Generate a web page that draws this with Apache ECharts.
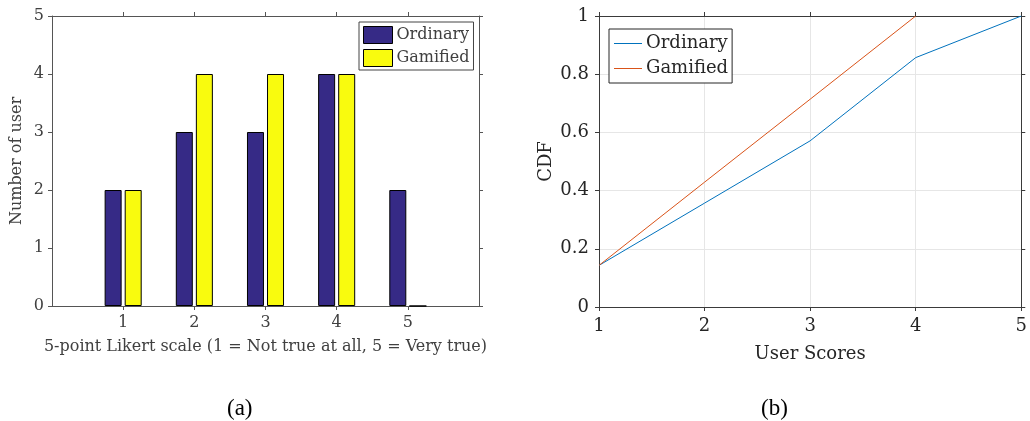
<!DOCTYPE html>
<html>
<head>
<meta charset="utf-8">
<script src="https://cdn.jsdelivr.net/npm/echarts@6/dist/echarts.min.js"></script>
<style>
  html, body { margin: 0; padding: 0; background: #fff; }
  #chart { width: 1030px; height: 421px; }
</style>
</head>
<body>
<div id="chart"></div>
<script>
// Two panels: (a) Likert answer counts per group, (b) CDF of the user scores.
const likertScores = [1, 2, 3, 4, 5]
const ordinaryCounts = [2, 3, 3, 4, 2]
const gamifiedCounts = [2, 4, 4, 4, 0]

const cdfScores = [1, 2, 3, 4, 5]
const ordinaryCdf = [0.143, 0.357, 0.571, 0.857, 1]
const gamifiedCdf = [0.143, 0.429, 0.714, 1]

const SERIF = "'DejaVu Serif', serif"
const BOX_A = "#555"
const TEXT_A = "#404040"
const BOX_B = "#3a3a3a"
const TEXT_B = "#262626"

const pairs = (xs, ys) => ys.map((y, i) => [xs[i], y])

// helper for the plain "frame" axes that only carry ticks
const frameAxis = (position, color, extra) => ({
  position,
  axisLine: {show: true, onZero: false, lineStyle: {color, width: 1}},
  axisTick: {show: true, length: 4, lineStyle: {color}},
  axisLabel: {show: false},
  splitLine: {show: false},
  ...extra,
})

// legend entries share names across panels, so series get keys and the legend maps them back
const labels = {ordA: "Ordinary", gamA: "Gamified", ordB: "Ordinary", gamB: "Gamified"}

const option = {
  animation: false,
  grid: [
    {left: 52, top: 16, width: 427, height: 290},
    {left: 599, top: 16, width: 427, height: 291},
  ],
  xAxis: [
    {
      type: "value", gridIndex: 0, min: 0, max: 6, interval: 1, position: "bottom",
      name: "5-point Likert scale (1 = Not true at all, 5 = Very true)",
      nameLocation: "middle", nameGap: 33,
      nameTextStyle: {fontFamily: SERIF, fontSize: 16, color: TEXT_A},
      axisLine: {onZero: false, lineStyle: {color: BOX_A}},
      axisTick: {length: 4, lineStyle: {color: BOX_A}, customValues: likertScores},
      axisLabel: {fontFamily: SERIF, fontSize: 16, color: TEXT_A, margin: 9, customValues: likertScores},
      splitLine: {show: false},
    },
    frameAxis("top", BOX_A, {
      type: "value", gridIndex: 0, min: 0, max: 6, interval: 1,
      axisTick: {show: true, length: 4, lineStyle: {color: BOX_A}, customValues: likertScores},
    }),
    {
      type: "value", gridIndex: 1, min: 1, max: 5, interval: 1, position: "bottom",
      name: "User Scores", nameLocation: "middle", nameGap: 38,
      nameTextStyle: {fontFamily: SERIF, fontSize: 18, color: TEXT_B},
      axisLine: {onZero: false, lineStyle: {color: BOX_B}},
      axisTick: {length: 4, lineStyle: {color: BOX_B}},
      axisLabel: {fontFamily: SERIF, fontSize: 18, color: TEXT_B, margin: 10},
      splitLine: {show: true, lineStyle: {color: "#e6e6e6"}},
    },
    frameAxis("top", BOX_B, {type: "value", gridIndex: 1, min: 1, max: 5, interval: 1}),
  ],
  yAxis: [
    {
      type: "value", gridIndex: 0, min: 0, max: 5, interval: 1, position: "left",
      name: "Number of user", nameLocation: "middle", nameGap: 27,
      nameTextStyle: {fontFamily: SERIF, fontSize: 16, color: TEXT_A},
      axisLine: {show: true, onZero: false, lineStyle: {color: BOX_A}},
      axisTick: {show: true, length: 4, lineStyle: {color: BOX_A}},
      axisLabel: {fontFamily: SERIF, fontSize: 16, color: TEXT_A, margin: 8},
      splitLine: {show: false},
    },
    frameAxis("right", BOX_A, {type: "value", gridIndex: 0, min: 0, max: 5, interval: 1}),
    {
      type: "value", gridIndex: 1, min: 0, max: 1, interval: 0.2, position: "left",
      name: "CDF", nameLocation: "middle", nameGap: 44,
      nameTextStyle: {fontFamily: SERIF, fontSize: 18, color: TEXT_B},
      axisLine: {show: true, onZero: false, lineStyle: {color: BOX_B}},
      axisTick: {show: true, length: 4, lineStyle: {color: BOX_B}},
      axisLabel: {fontFamily: SERIF, fontSize: 18, color: TEXT_B, margin: 10},
      splitLine: {show: true, lineStyle: {color: "#e6e6e6"}},
    },
    frameAxis("right", BOX_B, {type: "value", gridIndex: 1, min: 0, max: 1, interval: 0.2}),
  ],
  legend: [
    {
      data: ["ordA", "gamA"], formatter: (n) => labels[n],
      orient: "vertical", left: 359, top: 22, icon: "rect",
      padding: [4, 4, 3, 4], itemGap: 5, itemWidth: 29, itemHeight: 17,
      borderColor: "#444", borderWidth: 1, backgroundColor: "#fff",
      itemStyle: {borderColor: "#000", borderWidth: 1},
      textStyle: {fontFamily: SERIF, fontSize: 16, color: TEXT_A, lineHeight: 18, padding: [0, 0, 0, -1]},
    },
    {
      data: ["ordB", "gamB"], formatter: (n) => labels[n],
      orient: "vertical", left: 609, top: 29, icon: "rect",
      padding: [4, 4, 4, 5], itemGap: 4, itemWidth: 28, itemHeight: 1,
      borderColor: "#262626", borderWidth: 1, backgroundColor: "#fff",
      itemStyle: {borderWidth: 0},
      textStyle: {fontFamily: SERIF, fontSize: 18, color: TEXT_B, lineHeight: 21, padding: [0, 0, 0, -1]},
    },
  ],
  series: [
    {
      name: "ordA", type: "bar", xAxisIndex: 0, yAxisIndex: 0,
      data: pairs(likertScores, ordinaryCounts),
      barWidth: 17, barGap: "18%",
      itemStyle: {color: "#362A86", borderColor: "#000", borderWidth: 1},
    },
    {
      name: "gamA", type: "bar", xAxisIndex: 0, yAxisIndex: 0,
      data: pairs(likertScores, gamifiedCounts),
      barWidth: 17, barGap: "18%",
      itemStyle: {color: "#F9FB0E", borderColor: "#000", borderWidth: 1},
    },
    {
      name: "ordB", type: "line", xAxisIndex: 2, yAxisIndex: 2,
      data: pairs(cdfScores, ordinaryCdf),
      symbol: "none", lineStyle: {color: "#0072BD", width: 1}, itemStyle: {color: "#0072BD"},
    },
    {
      name: "gamB", type: "line", xAxisIndex: 2, yAxisIndex: 2,
      data: pairs(cdfScores, gamifiedCdf),
      symbol: "none", lineStyle: {color: "#D95319", width: 1}, itemStyle: {color: "#D95319"},
    },
  ],
  graphic: [
    {type: "text", left: 227, top: 397, style: {text: "(a)", font: "23px 'Liberation Serif', serif", fill: "#000"}},
    {type: "text", left: 761, top: 397, style: {text: "(b)", font: "23px 'Liberation Serif', serif", fill: "#000"}},
  ],
}

const chart = echarts.init(document.getElementById("chart"), null, {renderer: "canvas"})
chart.setOption(option)
</script>
</body>
</html>
